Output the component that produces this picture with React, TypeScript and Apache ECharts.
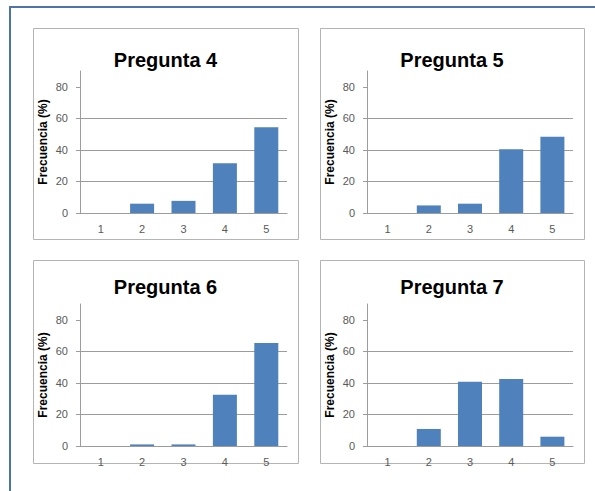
import React, { useEffect, useRef } from "react";
import * as echarts from "echarts";

// Answer options on the horizontal axis
const categories = ["1", "2", "3", "4", "5"];

// Response frequency (%) per question
const pregunta4 = [0, 5.9, 7.7, 31.6, 54.4];
const pregunta5 = [0, 4.8, 5.9, 40.4, 48.4];
const pregunta6 = [0, 1.0, 1.0, 32.5, 65.3];
const pregunta7 = [0, 10.8, 40.8, 42.5, 5.9];

const titles = ["Pregunta 4", "Pregunta 5", "Pregunta 6", "Pregunta 7"];
const yTicks = [0, 20, 40, 60, 80];
const yName = "Frecuencia (%)";

const FONT = "'Liberation Sans', Arial, sans-serif";
const BAR = "#4F81BD";
const GRID_LINE = "#9c9c9c";
const LABEL = "#595959";

// Panel frames and plot areas (pixels)
const panels = [
  { box: [33, 28, 265, 211], plot: { left: 80, top: 71, width: 207, height: 142 }, titleY: 60 },
  { box: [320, 28, 264, 211], plot: { left: 367, top: 71, width: 206, height: 142 }, titleY: 60 },
  { box: [33, 260, 265, 203], plot: { left: 80, top: 304, width: 207, height: 142 }, titleY: 287 },
  { box: [320, 260, 264, 203], plot: { left: 367, top: 304, width: 206, height: 142 }, titleY: 287 },
];

export default function App() {
  const ref = useRef<HTMLDivElement>(null);

  useEffect(() => {
    if (!ref.current) return;
    const chart = echarts.init(ref.current, null, { renderer: "svg" });
    const seriesData = [pregunta4, pregunta5, pregunta6, pregunta7];

    const graphic: any[] = [
      // outer frame (top and left edges)
      {
        type: "polyline",
        shape: { points: [[10, 491], [10, 7], [595, 7]] },
        style: { stroke: "#4f73a8", lineWidth: 2, fill: "none" },
        silent: true,
      },
    ];
    panels.forEach((p, i) => {
      const [x, y, w, h] = p.box;
      graphic.push({
        type: "rect",
        shape: { x: x + 0.5, y: y + 0.5, width: w, height: h },
        style: { fill: "#fff", stroke: "#b4b4b4", lineWidth: 1 },
        z: -10,
        silent: true,
      });
      graphic.push({
        type: "text",
        x: x + w / 2,
        y: p.titleY,
        style: {
          text: titles[i],
          font: `bold 20px ${FONT}`,
          fill: "#000",
          textAlign: "center",
          textVerticalAlign: "middle",
        },
        silent: true,
      });
    });

    const option: any = {
      animation: false,
      backgroundColor: "#fff",
      graphic,
      grid: panels.map((p) => ({ ...p.plot, containLabel: false })),
      xAxis: panels.map((_, i) => ({
        type: "category",
        gridIndex: i,
        data: categories,
        axisLine: { show: true, lineStyle: { color: GRID_LINE, width: 1 } },
        axisTick: { show: false },
        axisLabel: { color: LABEL, fontSize: 11, fontFamily: FONT, margin: 10 },
      })),
      yAxis: panels.map((_, i) => ({
        type: "value",
        gridIndex: i,
        min: 0,
        max: 90,
        interval: 20,
        name: yName,
        nameLocation: "middle",
        nameGap: 31,
        nameTextStyle: { color: "#000", fontSize: 12, fontWeight: "bold", fontFamily: FONT },
        axisLine: { show: true, lineStyle: { color: GRID_LINE, width: 1 } },
        axisTick: {
          show: true,
          length: 4,
          customValues: yTicks,
          lineStyle: { color: GRID_LINE },
        },
        axisLabel: {
          color: LABEL,
          fontSize: 11,
          fontFamily: FONT,
          margin: 12,
          customValues: yTicks,
        },
        splitLine: {
          show: true,
          showMaxLine: false,
          lineStyle: { color: GRID_LINE, width: 1 },
        },
      })),
      series: seriesData.map((d, i) => ({
        type: "bar",
        xAxisIndex: i,
        yAxisIndex: i,
        data: d,
        barWidth: 24,
        itemStyle: { color: BAR },
      })),
    };

    chart.setOption(option);
    return () => chart.dispose();
  }, []);

  return (
    <div
      ref={ref}
      style={{ position: "absolute", left: 0, top: 0, width: 595, height: 491, background: "#fff" }}
    />
  );
}
